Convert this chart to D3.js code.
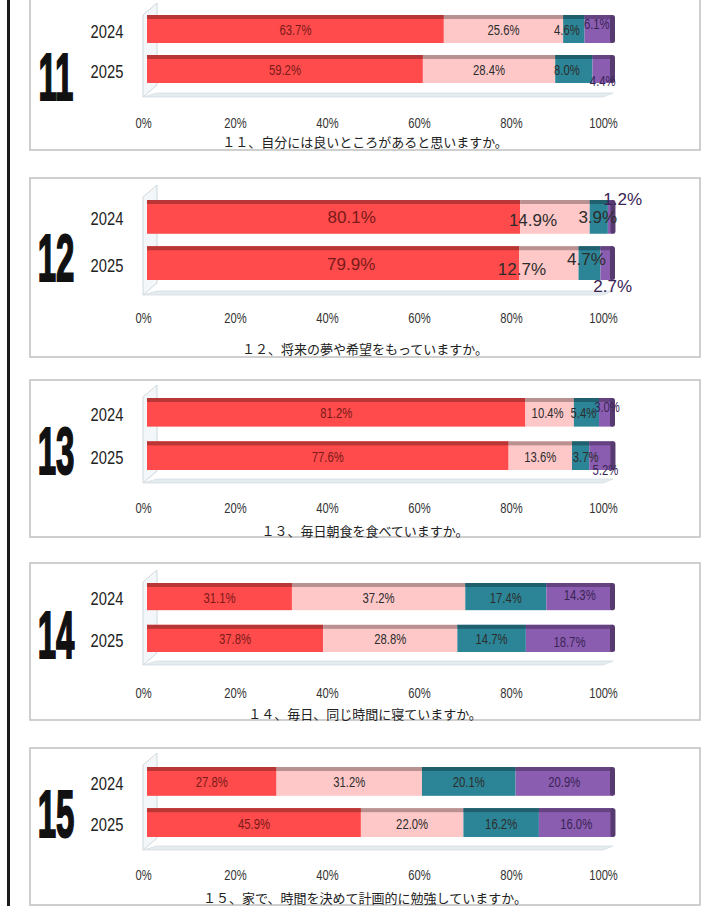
<!DOCTYPE html>
<html><head><meta charset="utf-8">
<script src="https://cdn.jsdelivr.net/npm/d3@7/dist/d3.min.js"></script>
<style>body{margin:0;background:#fff}svg{display:block}</style>
</head><body><svg id="c" width="712" height="906"></svg>
<script>
// ---------- data ----------
const questionNumbers = ["11", "12", "13", "14", "15"];
const questionTitles = [
  "１１、自分には良いところがあると思いますか。",
  "１２、将来の夢や希望をもっていますか。",
  "１３、毎日朝食を食べていますか。",
  "１４、毎日、同じ時間に寝ていますか。",
  "１５、家で、時間を決めて計画的に勉強していますか。"
];
const years = ["2024", "2025"];
const responseTypes = ["当てはまる", "どちらかといえば当てはまる", "どちらかといえば当てはまらない", "当てはまらない"];
const values2024 = [
  [63.7, 25.6, 4.6, 6.1],
  [80.1, 14.9, 3.9, 1.2],
  [81.2, 10.4, 5.4, 3.0],
  [31.1, 37.2, 17.4, 14.3],
  [27.8, 31.2, 20.1, 20.9]
];
const values2025 = [
  [59.2, 28.4, 8.0, 4.4],
  [79.9, 12.7, 4.7, 2.7],
  [77.6, 13.6, 3.7, 5.2],
  [37.8, 28.8, 14.7, 18.7],
  [45.9, 22.0, 16.2, 16.0]
];
const tickValues = [0, 20, 40, 60, 80, 100];

// ---------- styles / layout ----------
const colors = ["#ff4b4b", "#ffc8c8", "#2c8597", "#8a5db0"];
const sans = "'Liberation Sans',Arial,sans-serif";
const layout = [
  {box: [-8, 150], wallTop: 3,   bars: [15, 83],   pad: 0.30, floor: 97,  tickY: 123, titleY: 141, numY: 77,  fs: 14.5, sx: 0.78},
  {box: [178, 357], wallTop: 185, bars: [200, 280], pad: 0.27, floor: 295, tickY: 318, titleY: 348, numY: 258, fs: 17, sx: 1},
  {box: [380, 537], wallTop: 385, bars: [398, 470], pad: 0.34, floor: 483, tickY: 508, titleY: 530, numY: 451, fs: 14.5, sx: 0.78},
  {box: [563, 720], wallTop: 570, bars: [583, 652], pad: 0.35, floor: 665, tickY: 693, titleY: 713, numY: 635, fs: 14.5, sx: 0.78},
  {box: [748, 905], wallTop: 753, bars: [767, 837], pad: 0.30, floor: 850, tickY: 875, titleY: 897, numY: 814, fs: 14.5, sx: 0.78}
];
// label nudges [dx, dy] keyed "panel-year-segment"
const nudges = {
  "0-0-2": [-7, 0], "0-0-3": [-2, -6], "0-1-2": [-7, 0], "0-1-3": [0, 11],
  "1-0-0": [18, 0], "1-1-0": [18, 0], "1-0-1": [-22, 3], "1-1-1": [-27, 5],
  "1-0-2": [-1, 0], "1-0-3": [12, -18], "1-1-2": [-3, -5], "1-1-3": [6, 22],
  "2-0-1": [-2, 0], "2-0-2": [-3, 0], "2-0-3": [1, -6], "2-1-2": [5, 0], "2-1-3": [4, 13],
  "3-0-3": [0, -3], "3-1-3": [0, 3]
};

const svg = d3.select("#c");
const xBar = d3.scaleLinear().domain([0, 100]).range([147, 613]);
const xAxis = d3.scaleLinear().domain([0, 100]).range([143, 603]);

// left black rule
svg.append("rect").attr("x", 7).attr("y", 0).attr("width", 3).attr("height", 906).attr("fill", "#1a1a1a");

layout.forEach((L, qi) => {
  const g = svg.append("g");
  g.append("rect").attr("x", 30).attr("y", L.box[0]).attr("width", 670).attr("height", L.box[1] - L.box[0])
    .attr("fill", "#fff").attr("stroke", "#c4c4c4").attr("stroke-width", 1.6);

  g.append("path")
    .attr("d", `M143,${L.floor} L143,${L.wallTop + 12} L157,${L.wallTop} L157,${L.floor - 12} Z`)
    .attr("fill", "#f3f7f9").attr("stroke", "#cfd8dd").attr("stroke-width", 1);
  g.append("path")
    .attr("d", `M143,${L.floor} L${xAxis(100)},${L.floor} L${xAxis(100) + 10},${L.floor - 4} L157,${L.floor - 4} Z`)
    .attr("fill", "#e4ecf0").attr("stroke", "#d5dee3").attr("stroke-width", 0.8);

  const y = d3.scaleBand().domain(years).range(L.bars).paddingInner(L.pad).paddingOuter(0);
  const bw = y.bandwidth();

  [values2024[qi], values2025[qi]].forEach((vals, yi) => {
    const yr = years[yi];
    const y0 = y(yr);
    const stack = d3.cumsum(vals);
    const starts = vals.map((v, i) => stack[i] - v);
    const bg = g.append("g");
    bg.selectAll("rect.seg").data(vals).join("rect").attr("class", "seg")
      .attr("x", (d, i) => xBar(starts[i]))
      .attr("width", (d, i) => Math.max(0, xBar(stack[i]) - xBar(starts[i])))
      .attr("y", y0).attr("height", bw)
      .attr("fill", (d, i) => colors[i]);
    bg.selectAll("rect.top").data(vals).join("rect").attr("class", "top")
      .attr("x", (d, i) => xBar(starts[i]))
      .attr("width", (d, i) => Math.max(0, xBar(stack[i]) - xBar(starts[i])))
      .attr("y", y0).attr("height", 4)
      .attr("fill", (d, i) => d3.color(colors[i]).darker(0.9));
    const endX = xBar(stack[stack.length - 1]);
    bg.append("rect").attr("x", endX - 3).attr("y", y0).attr("width", 5).attr("height", bw)
      .attr("rx", 2.5).attr("fill", d3.color(colors[3]).darker(1.3));
    bg.selectAll("text").data(vals).join("text")
      .attr("transform", (d, i) => {
        const n = nudges[`${qi}-${yi}-${i}`] || [0, 0];
        const tx = xBar((starts[i] + stack[i]) / 2) + n[0];
        const ty = y0 + bw / 2 + 1 + n[1];
        return `translate(${tx},${ty}) scale(${L.sx},1)`;
      })
      .attr("text-anchor", "middle").attr("dominant-baseline", "central")
      .attr("font-family", sans).attr("font-size", L.fs)
      .attr("fill", (d, i) => i === 0 ? "#7a1a1a" : (i === 3 ? "#3a2456" : "#2c2c2c"))
      .text(d => d.toFixed(1) + "%");
    g.append("text").attr("transform", `translate(107,${y0 + bw / 2 + 2}) scale(0.82,1)`)
      .attr("text-anchor", "middle").attr("dominant-baseline", "central")
      .attr("font-family", sans).attr("font-size", 18).attr("fill", "#222").text(yr);
  });

  const ax = g.append("g").attr("transform", `translate(0,${L.tickY})`)
    .call(d3.axisBottom(xAxis).tickValues(tickValues).tickFormat(d => d + "%").tickSize(0));
  ax.select(".domain").remove();
  ax.selectAll(".tick text").attr("y", 0).attr("dy", "0.35em")
    .attr("transform", "scale(0.8,1)")
    .attr("font-family", sans).attr("font-size", 14).attr("fill", "#333");

  g.append("text")
    .attr("transform", `translate(56,${L.numY}) scale(0.5,1)`)
    .attr("text-anchor", "middle").attr("dominant-baseline", "central")
    .attr("font-family", sans).attr("font-weight", "bold").attr("font-size", 66)
    .attr("fill", "#111").attr("stroke", "#111").attr("stroke-width", 2)
    .text(questionNumbers[qi]);

  g.append("text").attr("x", 365).attr("y", L.titleY)
    .attr("text-anchor", "middle").attr("dominant-baseline", "central")
    .attr("font-family", "'Noto Sans CJK JP',sans-serif").attr("font-size", 13).attr("fill", "#222")
    .text(questionTitles[qi]);
});
</script>
</body></html>
